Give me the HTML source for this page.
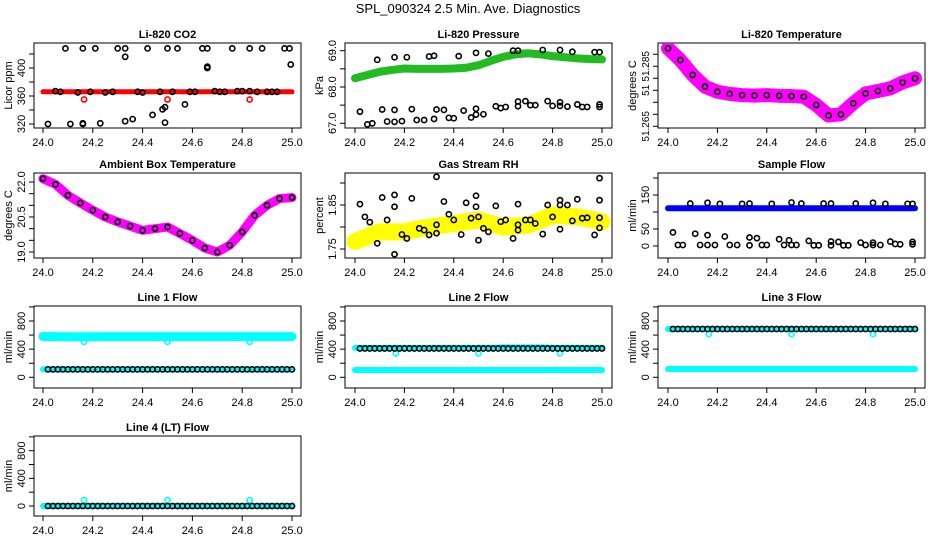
<!DOCTYPE html>
<html><head><meta charset="utf-8"><style>
body{margin:0;background:#fff}
svg{display:block;font-family:"Liberation Sans",sans-serif}
</style></head><body>
<svg id="c" width="936" height="540" viewBox="0 0 936 540">
<text x="468" y="13" font-size="13" text-anchor="middle">SPL_090324  2.5 Min. Ave. Diagnostics</text>
</svg>
<script>
// ---- data ----
const gridT = [24.0,24.05,24.1,24.15,24.2,24.25,24.3,24.35,24.4,24.45,24.5,24.55,24.6,24.65,24.7,24.75,24.8,24.85,24.9,24.95,25.0];
const co2Band = [366,366,366,366,366,366,366,366,366,366,366,366,366,366,366,366,366,366,366,366,366];
const co2RedX = [24.165,24.5,24.83];
const co2RedY = [355,355,355];
const co2BlkX = [24.09,24.16,24.21,24.30,24.33,24.42,24.50,24.54,24.64,24.66,24.76,24.83,24.88,24.97,24.99,24.33,24.66,24.66,24.995,24.05,24.07,24.14,24.19,24.25,24.28,24.38,24.40,24.47,24.52,24.59,24.61,24.69,24.71,24.73,24.78,24.80,24.83,24.86,24.90,24.92,24.94,24.02,24.11,24.16,24.16,24.23,24.33,24.36,24.44,24.48,24.49,24.49,24.57];
const co2BlkY = [428,428,428,428,428,428,428,428,428,428,428,428,428,428,428,416,402,400,405,367,366,365,366,365,366,366,365,366,366,366,366,367,366,366,367,367,367,366,366,366,366,320,320,320,321,321,324,327,333,341,344,322,348];
const presBand = [68.24,68.33,68.42,68.47,68.51,68.5,68.5,68.5,68.51,68.53,68.6,68.72,68.83,68.9,68.93,68.9,68.85,68.82,68.79,68.77,68.76];
const presBlkX = [24.09,24.16,24.21,24.30,24.32,24.42,24.49,24.54,24.64,24.66,24.76,24.83,24.88,24.97,24.99,24.02,24.05,24.07,24.11,24.13,24.16,24.16,24.19,24.23,24.25,24.28,24.32,24.33,24.36,24.38,24.40,24.44,24.47,24.49,24.49,24.52,24.57,24.59,24.61,24.66,24.66,24.69,24.71,24.73,24.78,24.80,24.83,24.83,24.86,24.90,24.92,24.94,24.99,24.99];
const presBlkY = [68.75,68.82,68.82,68.84,68.86,68.85,68.94,68.92,69.0,69.0,69.02,69.02,68.97,68.96,68.96,67.32,66.97,67.0,67.38,67.05,67.37,67.04,67.06,67.39,67.09,67.09,67.12,67.38,67.37,67.15,67.14,67.35,67.16,67.4,67.24,67.25,67.47,67.42,67.45,67.47,67.6,67.61,67.5,67.5,67.61,67.48,67.58,67.48,67.46,67.52,67.45,67.45,67.45,67.52];
const ltBand = [51.2925,51.2876,51.2814,51.2765,51.2744,51.2735,51.273,51.2728,51.273,51.2727,51.2726,51.2723,51.2689,51.2645,51.265,51.2696,51.2737,51.2747,51.2758,51.2783,51.28];
const ambBand = [22.14,21.9,21.43,21.1,20.79,20.5,20.29,20.11,19.93,20.0,20.07,19.79,19.5,19.17,19.0,19.29,19.86,20.57,21.0,21.29,21.33];
const rhBand = [1.767,1.778,1.789,1.789,1.789,1.795,1.80,1.804,1.808,1.812,1.816,1.808,1.80,1.802,1.804,1.815,1.827,1.825,1.823,1.818,1.812];
const rhBlkX = [24.02,24.04,24.06,24.09,24.11,24.13,24.16,24.16,24.16,24.19,24.21,24.23,24.26,24.28,24.30,24.33,24.33,24.33,24.36,24.38,24.40,24.43,24.45,24.47,24.49,24.49,24.50,24.50,24.52,24.54,24.57,24.59,24.61,24.64,24.66,24.66,24.66,24.69,24.71,24.73,24.76,24.78,24.80,24.83,24.83,24.83,24.86,24.88,24.90,24.92,24.94,24.97,24.99,24.99,24.99,24.99];
const rhBlkY = [1.852,1.823,1.811,1.763,1.867,1.816,1.873,1.846,1.738,1.783,1.774,1.865,1.797,1.793,1.782,1.914,1.805,1.786,1.858,1.829,1.816,1.783,1.855,1.82,1.871,1.846,1.823,1.770,1.797,1.789,1.848,1.812,1.816,1.774,1.805,1.793,1.852,1.816,1.816,1.808,1.784,1.85,1.823,1.861,1.85,1.795,1.85,1.814,1.863,1.82,1.821,1.782,1.911,1.861,1.821,1.798];
const sfBand = [111,111,111,111,111,111,111,111,111,111,111,111,111,111,111,111,111,111,111,111,111];
const sfBlkX = [24.09,24.16,24.21,24.30,24.33,24.42,24.50,24.54,24.63,24.66,24.76,24.83,24.88,24.97,24.99,24.02,24.04,24.06,24.11,24.13,24.16,24.16,24.19,24.23,24.25,24.28,24.33,24.33,24.36,24.38,24.40,24.45,24.47,24.49,24.50,24.52,24.57,24.59,24.61,24.66,24.66,24.69,24.71,24.73,24.78,24.80,24.83,24.83,24.86,24.90,24.92,24.94,24.99,24.99];
const sfBlkY = [125,127,124,124,125,124,128,125,125,125,125,127,124,124,124,40,3,3,36,3,32,3,3,28,3,3,25,2,23,3,3,20,3,17,3,3,15,2,2,2,13,12,2,2,10,3,10,3,3,13,6,5,5,12];
const flowT = [24.02,24.04,24.06,24.08,24.1,24.12,24.14,24.16,24.18,24.2,24.22,24.24,24.26,24.28,24.3,24.32,24.34,24.36,24.38,24.4,24.42,24.44,24.46,24.48,24.5,24.52,24.54,24.56,24.58,24.6,24.62,24.64,24.66,24.68,24.7,24.72,24.74,24.76,24.78,24.8,24.82,24.84,24.86,24.88,24.9,24.92,24.94,24.96,24.98,25.0];
const l1Hi = [580,578,576,576,576,578,578,578,578,578,578,578,578,578,578,578,578,578,578,578,578];
const l1Lo = [113,113,113,113,113,113,113,113,113,113,113,113,113,113,113,113,113,113,113,113,113];
const l1Blk = [113];
const l2Hi = [418,418,418,418,418,418,418,420,420,420,420,420,425,425,425,425,420,420,420,420,420];
const l2Lo = [104,104,104,104,104,104,104,104,104,104,104,104,104,104,104,104,104,104,104,104,104];
const l2Blk = [410];
const l3Hi = [686,686,686,686,686,686,686,686,686,686,686,686,686,686,686,686,686,686,686,686,686];
const l3Lo = [118,118,118,118,118,118,118,118,118,118,118,118,118,118,118,118,118,118,118,118,118];
const l3Blk = [686];
const l4Band = [0,0,0,0,0,0,0,0,0,0,0,0,0,0,0,0,0,0,0,0,0];
const l4Blk = [0];
const dipX = [24.165,24.5,24.83];
const l1Dip = [505,505,505], l2Dip = [340,340,340], l3Dip = [615,615,615], l4Dip = [85,85,85];

// ---- drawing ----
const svg = document.getElementById('c');
const NS = 'http://www.w3.org/2000/svg';
function mk(tag, attrs, parent){const e=document.createElementNS(NS,tag);for(const k in attrs)e.setAttribute(k,attrs[k]);(parent||svg).appendChild(e);return e;}
const cols=[{x0:43,x1:292,L:34,R:301},{x0:355,x1:602,L:345,R:612},{x0:668,x1:915,L:658,R:925}];
const rows=[{T:43,B:128},{T:173,B:258},{T:306,B:388},{T:436,B:516}];

function panel(name,title,ylab,c,r,ref,ticks,labels,lfs){
  const C=cols[c],Rw=rows[r];
  const g=mk('g',{});
  
  
  const sx=v=>C.x0+(v-24)*(C.x1-C.x0);
  const sy=v=>ref[1]+(v-ref[0])*(ref[3]-ref[1])/(ref[2]-ref[0]);
  const t=mk('text',{x:(C.L+C.R)/2,y:Rw.T-5,'font-size':11,'font-weight':'bold','text-anchor':'middle'},g);t.textContent=title;
  
  
  const box=mk('rect',{x:C.L,y:Rw.T,width:C.R-C.L,height:Rw.B-Rw.T,fill:'none',stroke:'#000'},g);
  
  
  const xa=mk('g',{},g);
  
  
  [24.0,24.2,24.4,24.6,24.8,25.0].forEach(v=>{
    mk('line',{x1:sx(v),x2:sx(v),y1:Rw.B,y2:Rw.B+5,stroke:'#000'},xa);
    const l=mk('text',{x:sx(v),y:Rw.B+18,'font-size':11,'text-anchor':'middle'},xa);l.textContent=v.toFixed(1);
  });
  const ya=mk('g',{},g);
  
  
  ticks.forEach(v=>mk('line',{x1:C.L-5,x2:C.L,y1:sy(v),y2:sy(v),stroke:'#000'},ya));
  labels.forEach(([v,s])=>{const l=mk('text',{x:0,y:0,'font-size':lfs||11,'text-anchor':'middle',transform:`translate(${C.L-9},${sy(v)}) rotate(-90)`},ya);l.textContent=s;});
  const yl=mk('text',{x:0,y:0,'font-size':11,'text-anchor':'middle',transform:`translate(${C.L-22},${(Rw.T+Rw.B)/2}) rotate(-90)`},g);yl.textContent=ylab;
  
  
  const clipId='cl'+name;
  const cp=mk('clipPath',{id:clipId},g);mk('rect',{x:C.L,y:Rw.T,width:C.R-C.L,height:Rw.B-Rw.T},cp);
  const d=mk('g',{'clip-path':`url(#${clipId})`},g);
  return {sx,sy,d,
    band(vals,col,w,nm){
      const pts=gridT.map((t,i)=>sx(t)+','+sy(vals[i])).join(' ');
      const p=mk('polyline',{points:pts,fill:'none',stroke:col,'stroke-width':w,'stroke-linejoin':'round','stroke-linecap':'round'},d);
      
      
    },
    pts(xs,ys,col,nm){
      const gg=mk('g',{},d);
      
      
      xs.forEach((x,i)=>mk('circle',{cx:sx(x),cy:sy(ys[i]),r:2.6,fill:'none',stroke:col,'stroke-width':1.6},gg));
    }};
}
const rng=(a,b,s)=>{const o=[];for(let v=a;v<=b+1e-9;v+=s)o.push(+v.toFixed(4));return o;};
const flowTicks=rng(0,1000,200), flowLabs=[[0,'0'],[400,'400'],[800,'800']];
const constArr=(lv)=>flowT.map(()=>lv[0]);

let p=panel('co2','Li-820 CO2','Licor ppm',0,0,[320,124,400,68],rng(320,420,20),[[320,'320'],[360,'360'],[400,'400']]);
p.band(co2Band,'#ff0000',5,'co2-band');p.pts(co2RedX,co2RedY,'#ff0000','co2-red-points');p.pts(co2BlkX,co2BlkY,'#000','co2-black-points');

p=panel('pressure','Li-820 Pressure','kPa',1,0,[67,123.3,69,50.7],rng(67,69,0.5),[[67,'67.0'],[68,'68.0'],[69,'69.0']]);
p.band(presBand,'#22bb22',8,'pressure-band');p.pts(presBlkX,presBlkY,'#000','pressure-black-points');

p=panel('li-temp','Li-820 Temperature','degrees C',2,0,[51.265,114.3,51.285,66.3],rng(51.26,51.29,0.005),[[51.285,'51.285'],[51.275,'51'],[51.26,'51.265']],10);
p.band(ltBand,'#ff00ff',14,'li-temp-band');p.pts(gridT,ltBand,'#000','li-temp-black-points');

p=panel('ambient','Ambient Box Temperature','degrees C',0,1,[19,252,22,182],rng(19,22,0.5),[[19,'19.0'],[20.5,'20.5'],[22,'22.0']]);
p.band(ambBand,'#ff00ff',9,'ambient-band');p.pts(gridT,ambBand,'#000','ambient-black-points');

p=panel('rh','Gas Stream RH','percent',1,1,[1.75,249,1.85,205],rng(1.75,1.9,0.05),[[1.75,'1.75'],[1.85,'1.85']]);
p.band(rhBand,'#ffff00',17,'rh-band');p.pts(rhBlkX,rhBlkY,'#000','rh-black-points');

p=panel('sample-flow','Sample Flow','ml/min',2,1,[0,246,150,195],rng(0,200,50),[[0,'0'],[50,'50'],[150,'150']]);
p.band(sfBand,'#0000ff',6,'sample-flow-band');p.pts(sfBlkX,sfBlkY,'#000','sample-flow-black-points');

const fl=[['line1','Line 1 Flow',0,2,[0,377.3,800,321],l1Hi,l1Lo,l1Blk,l1Dip],
          ['line2','Line 2 Flow',1,2,[0,377.3,800,321],l2Hi,l2Lo,l2Blk,l2Dip],
          ['line3','Line 3 Flow',2,2,[0,377.3,800,321],l3Hi,l3Lo,l3Blk,l3Dip]];
fl.forEach(([n,t,c,r,ref,hi,lo,blk,dip])=>{
  const q=panel(n,t,'ml/min',c,r,ref,flowTicks,flowLabs);
  q.band(hi,'#00ffff',n==='line1'?9:6,n+'-upper-band');q.band(lo,'#00ffff',6,n+'-lower-band');
  q.pts(dipX,dip,'#00ffff',n+'-dip-points');q.pts(flowT,constArr(blk),'#000',n+'-black-points');
});
p=panel('line4','Line 4 (LT) Flow','ml/min',0,3,[0,506,800,450.7],flowTicks,flowLabs);
p.band(l4Band,'#00ffff',6,'line4-band');p.pts(dipX,l4Dip,'#00ffff','line4-dip-points');p.pts(flowT,constArr(l4Blk),'#000','line4-black-points');
</script>
</body></html>
